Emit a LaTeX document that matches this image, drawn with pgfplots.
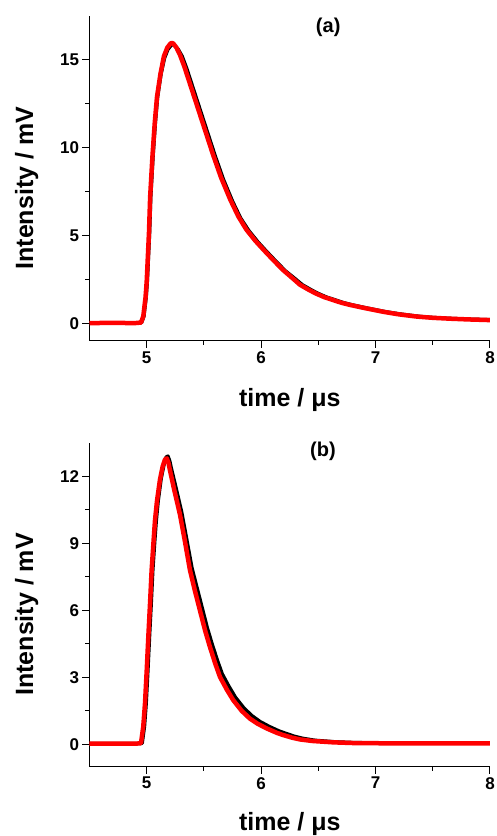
\documentclass[border=0pt]{standalone}
\usepackage{pgfplots}
\pgfplotsset{compat=1.18}
\usepackage{fontspec}
\setmainfont{Liberation Sans}

\pgfplotsset{
  panel/.style={
    scale only axis,
    width=400.5pt,
    anchor=south west,
    axis lines=left,
    axis line style={-, line width=1pt},
    enlargelimits=false,
    xmin=4.5, xmax=8,
    xtick={5,6,7,8},
    minor x tick num=1,
    minor y tick num=1,
    tick align=outside,
    major tick length=7pt,
    minor tick length=4pt,
    every tick/.style={black, line width=1pt},
    /pgf/number format/assume math mode=true,
    tick label style={font=\fontsize{17}{19}\selectfont\bfseries},
    label style={font=\fontsize{25}{28}\selectfont\bfseries},
    xlabel={time / μs},
    ylabel={Intensity / mV},
    ylabel style={at={(axis description cs:-0.141,0.47)}, anchor=base, rotate=0},
    title style={font=\fontsize{20}{22}\selectfont\bfseries, anchor=center},
  },
  blk/.style={black, line width=3.5pt, line join=round},
  rd/.style={red, line width=4.5pt, line join=round},
}

\begin{document}
\begin{tikzpicture}
\path[use as bounding box] (0,0) rectangle (496pt,836pt);

% ---------------- panel (a)
\begin{axis}[panel,
  at={(89.5pt,495pt)},
  height=325pt,
  ymin=-1, ymax=17.5,
  ytick={0,5,10,15},
  xlabel style={at={(axis description cs:0.5,-0.203)}, anchor=base},
  title={(a)},
  title style={at={(axis description cs:0.596,0.948)}},
]
\addplot[blk] coordinates {
(4.50,0.02) (4.70,0.03) (4.90,0.02) (4.955,0.05) (4.975,0.4) (4.995,1.5) (5.005,2.4) (5.025,5.2) (5.035,7.2) (5.055,9.5) (5.075,11.4) (5.095,12.9) (5.125,14.2) (5.155,15.1) (5.185,15.6) (5.215,15.85) (5.24,15.85) (5.275,15.6) (5.31,15.2) (5.35,14.5) (5.40,13.5) (5.46,12.3) (5.52,11.1) (5.60,9.5) (5.67,8.2) (5.75,6.95) (5.82,6.0) (5.89,5.3) (5.97,4.65) (6.04,4.15) (6.12,3.6) (6.21,3.0) (6.29,2.58) (6.36,2.2) (6.44,1.9) (6.50,1.7) (6.57,1.5) (6.65,1.33) (6.72,1.18) (6.80,1.05) (6.92,0.88) (7.09,0.66) (7.22,0.53) (7.38,0.4) (7.51,0.33) (7.66,0.28) (7.81,0.24) (8.00,0.21)
};
\addplot[rd] coordinates {
(4.50,0.02) (4.70,0.03) (4.90,0.02) (4.95,0.05) (4.97,0.4) (4.99,1.5) (5.00,2.4) (5.02,5.2) (5.03,7.2) (5.05,9.5) (5.07,11.4) (5.09,12.9) (5.12,14.2) (5.15,15.2) (5.18,15.7) (5.21,15.95) (5.23,15.95) (5.26,15.7) (5.29,15.3) (5.33,14.6) (5.38,13.6) (5.44,12.4) (5.50,11.2) (5.58,9.6) (5.65,8.3) (5.73,7.05) (5.80,6.1) (5.87,5.35) (5.95,4.7) (6.02,4.2) (6.10,3.65) (6.19,3.05) (6.27,2.6) (6.34,2.2) (6.42,1.9) (6.48,1.7) (6.55,1.5) (6.63,1.33) (6.70,1.18) (6.78,1.05) (6.90,0.88) (7.07,0.66) (7.20,0.52) (7.36,0.39) (7.50,0.32) (7.65,0.27) (7.80,0.23) (8.00,0.19)
};
\end{axis}

% ---------------- panel (b)
\begin{axis}[panel,
  at={(89.5pt,69.3pt)},
  height=324pt,
  ymin=-1, ymax=13.5,
  ytick={0,3,6,9,12},
  xlabel style={at={(axis description cs:0.5,-0.196)}, anchor=base},
  title={(b)},
  title style={at={(axis description cs:0.583,0.956)}},
]
\addplot[blk] coordinates {
(4.50,0.03) (4.90,0.03) (4.96,0.05) (4.98,0.8) (4.995,1.83) (5.01,3.3) (5.024,4.8) (5.04,6.4) (5.053,7.8) (5.07,9.1) (5.083,10.0) (5.10,10.9) (5.126,11.9) (5.15,12.5) (5.17,12.85) (5.185,12.9) (5.20,12.7) (5.215,12.35) (5.255,11.5) (5.305,10.4) (5.345,9.3) (5.395,7.9) (5.44,7.0) (5.485,6.1) (5.53,5.2) (5.572,4.48) (5.62,3.72) (5.66,3.15) (5.72,2.58) (5.776,2.1) (5.85,1.62) (5.92,1.28) (5.99,1.02) (6.07,0.8) (6.155,0.6) (6.21,0.5) (6.29,0.36) (6.36,0.27) (6.47,0.18) (6.65,0.11) (6.80,0.08) (7.00,0.06) (7.50,0.05) (8.00,0.05)
};
\addplot[rd] coordinates {
(4.50,0.03) (4.90,0.03) (4.95,0.05) (4.97,0.8) (4.985,1.83) (5.00,3.3) (5.014,4.8) (5.03,6.4) (5.043,7.8) (5.06,9.1) (5.072,10.0) (5.09,10.9) (5.116,11.85) (5.14,12.45) (5.16,12.75) (5.175,12.8) (5.19,12.6) (5.203,12.27) (5.24,11.4) (5.29,10.3) (5.33,9.2) (5.378,7.8) (5.42,6.9) (5.465,6.0) (5.51,5.1) (5.552,4.37) (5.60,3.6) (5.64,3.02) (5.70,2.45) (5.756,1.98) (5.83,1.5) (5.90,1.16) (5.97,0.92) (6.05,0.71) (6.135,0.52) (6.19,0.42) (6.27,0.3) (6.34,0.22) (6.45,0.15) (6.63,0.09) (6.80,0.06) (7.00,0.05) (7.50,0.04) (8.00,0.04)
};
\end{axis}
\end{tikzpicture}
\end{document}
